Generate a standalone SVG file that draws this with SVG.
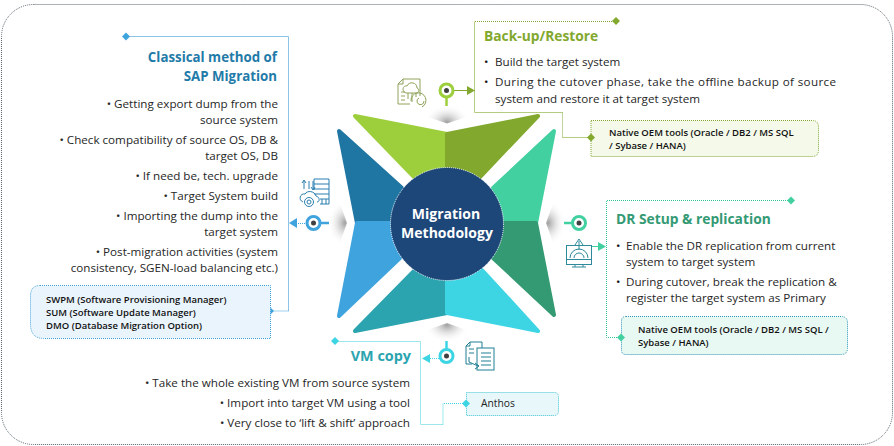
<svg xmlns="http://www.w3.org/2000/svg" width="894" height="446" viewBox="0 0 894 446">
<style>
text{font-family:"Open Sans","Noto Sans","DejaVu Sans",sans-serif}
.b{font-size:11.65px;fill:#262626}
.r{text-anchor:end}
.h{font-size:13.8px;font-weight:700}
.s{font-size:9.5px;font-weight:600;fill:#111}
.w{fill:none;stroke-linejoin:round}
.d{stroke-dasharray:1 1}
.c{font-size:14px;font-weight:700;fill:#fff;text-anchor:middle}
.dot{fill:#404040}
.i{fill:none;stroke-width:1}
</style>
<defs>
<radialGradient id="st" gradientUnits="userSpaceOnUse" cx="447" cy="122" r="23" gradientTransform="translate(447 122) scale(1 .75) translate(-447 -122)"><stop offset="0" stop-color="#a0a0a0"/><stop offset="1" stop-color="#fff" stop-opacity="0"/></radialGradient>
<radialGradient id="sb" gradientUnits="userSpaceOnUse" cx="447" cy="325" r="23" gradientTransform="translate(447 325) scale(1 .75) translate(-447 -325)"><stop offset="0" stop-color="#a0a0a0"/><stop offset="1" stop-color="#fff" stop-opacity="0"/></radialGradient>
<radialGradient id="sl" gradientUnits="userSpaceOnUse" cx="345" cy="223" r="23" gradientTransform="translate(345 223) scale(.75 1) translate(-345 -223)"><stop offset="0" stop-color="#a0a0a0"/><stop offset="1" stop-color="#fff" stop-opacity="0"/></radialGradient>
<radialGradient id="sr" gradientUnits="userSpaceOnUse" cx="548" cy="223" r="23" gradientTransform="translate(548 223) scale(.75 1) translate(-548 -223)"><stop offset="0" stop-color="#a0a0a0"/><stop offset="1" stop-color="#fff" stop-opacity="0"/></radialGradient>
</defs>
<rect width="894" height="446" fill="#fff"/>
<rect x="1.500" y="4.500" width="891" height="440" rx="32" fill="#fff" stroke="#56626a" stroke-dasharray="1 1"/>
<g id="shadows">
<path d="M422 104H472V115L447 123.500L422 115Z" fill="url(#st)"/>
<path d="M422 344H472V332L447 323L422 332Z" fill="url(#sb)"/>
<path d="M330 198H338L347 223L338 248H330Z" fill="url(#sl)"/>
<path d="M564 198H555L546 223L555 248H564Z" fill="url(#sr)"/>
</g>
<g id="star" stroke-linejoin="round" stroke-width="4">
<path d="M355 116L447 134V172L415 178Z" fill="#9dcf3c" stroke="#9dcf3c"/>
<path d="M538 116L447 134V172L480 177Z" fill="#82a82e" stroke="#82a82e"/>
<path d="M339 131L357 223H392L402 188Z" fill="#1f76a3" stroke="#1f76a3"/>
<path d="M339 316L357 223H392L400 258Z" fill="#3fa3de" stroke="#3fa3de"/>
<path d="M554 131L536 223H500L493 188Z" fill="#43d0a0" stroke="#43d0a0"/>
<path d="M554 315L536 223H500L493 258Z" fill="#339a74" stroke="#339a74"/>
<path d="M355 331L447 313V275L415 270Z" fill="#2ba4b0" stroke="#2ba4b0"/>
<path d="M538 331L447 313V275L482 270Z" fill="#3dd4e4" stroke="#3dd4e4"/>
</g>
<g id="hub">
<circle cx="447" cy="224" r="56.500" fill="#1d4679" stroke="#fff" stroke-dasharray="1 1"/>
<text class="c" x="446" y="219">Migration</text>
<text class="c" x="447" y="238">Methodology</text>
</g>
<g id="connectors">
<path d="M616 21.500H474.500" class="w d" stroke="#82a82e"/>
<path d="M474.500 21.500V112.500H562.500" class="w" stroke="#b4cd80"/>
<path d="M562.500 112.500V137.500" class="w d" stroke="#82a82e"/>
<path d="M562.500 137.500H591" class="w" stroke="#b4cd80"/>
<path d="M126 36.500H288.500V311" class="w" stroke="#8cc4e8"/>
<path d="M288.500 311H270" class="w d" stroke="#3fa3de"/>
<path d="M790 200.500H606.500V337.500H621" class="w d" stroke="#30c596"/>
<path d="M335 341.500H420.500V424.500H443" class="w" stroke="#9fe6ea"/>
<path d="M443 424.500V403.500H466" class="w d" stroke="#3dd4e4"/>
<path d="M454 90.500H468" stroke="#82a82e"/>
<path d="M296 223.500H307" class="d" stroke="#3fa3de"/>
<path d="M592 246.500H600" stroke="#43d0a0"/>
<path d="M428 358.500H440" class="d" stroke="#3dd4e4"/>
<path d="M467 86L475 90.500L467 95Z" fill="#82a82e"/>
<path d="M297 218L289 223L297 228Z" fill="#3fa3de"/>
<path d="M598 242L606 246.500L598 251Z" fill="#43d0a0"/>
<path d="M430 354L422 358.500L430 363Z" fill="#3dd4e4"/>
<path d="M126 32.500L130 36.500L126 40.500L122 36.500Z" fill="#3fa3de"/>
<path d="M616 17L620 21L616 25L612 21Z" fill="#82a82e"/>
<path d="M270 307L274 311L270 315L266 311Z" fill="#3fa3de"/>
<path d="M791 196.500L795 200.500L791 204.500L787 200.500Z" fill="#43d0a0"/>
<path d="M335 337L339 341L335 345L331 341Z" fill="#3dd4e4"/>
</g>
<g id="pin-backup"><circle cx="446.500" cy="90.500" r="6.500" fill="#fff" stroke="#9dcf3c" stroke-width="3"/><circle class="dot" cx="446.500" cy="90.500" r="2.500"/><path d="M446.500 97V106" stroke="#9dcf3c" stroke-width="2.500"/></g>
<g id="pin-classical"><circle cx="313.500" cy="223" r="6.500" fill="#fff" stroke="#3fa3de" stroke-width="3"/><circle class="dot" cx="313.500" cy="223" r="2.500"/><path d="M320 223H329" stroke="#3fa3de" stroke-width="2.500"/></g>
<g id="pin-dr"><circle cx="579" cy="223" r="6.500" fill="#fff" stroke="#43d0a0" stroke-width="3"/><circle class="dot" cx="579" cy="223" r="2.500"/><path d="M564 223H573" stroke="#43d0a0" stroke-width="2.500"/></g>
<g id="pin-vm"><circle cx="446.500" cy="356" r="6.500" fill="#fff" stroke="#3dd4e4" stroke-width="3"/><circle class="dot" cx="446.500" cy="356" r="2.500"/><path d="M446.500 341V350" stroke="#3dd4e4" stroke-width="2.500"/></g>
<g id="icon-backup" class="i" stroke="#8fa35a">
<path d="M403 79H420V96M403 79L398 84V104H410M398 84H403V79"/><path d="M406 93C401 91 403 85 407 86C409 81 417 82 417 88C420 89 419 93 416 93H406"/><path d="M408 93V99M412 93V102M416 93V97M401 92H405M401 96H405M401 100H405"/><path d="M422 107A7.500 7.500 0 1 0 411 101"/><path d="M424 101A3.500 3.500 0 1 1 419 98"/>
</g>
<g id="icon-classical" class="i" stroke="#2a7fb0">
<path d="M314 179H329V204H320M314 179V190M314 184H329M314 189H329M314 194H329M320 199H329M322 199V204M326 199V204"/><path d="M304 181V189M309 181V189M313 181V189M302 183L304 180L306 183M311 187L313 190L315 187"/><path d="M303 202C298 200 300 193 305 194C307 190 315 191 316 196C320 197 320 202 317 202"/><circle cx="309" cy="202" r="4.500"/><circle cx="309" cy="202" r="2"/>
</g>
<g id="icon-dr" class="i" stroke="#2c8a9c">
<rect x="566.500" y="245.500" width="25" height="19"/><path d="M566.500 259.500H591.500M575 264.500V267M583 264.500V267M572 267H586"/><path d="M570 258A9 9 0 0 1 588 258M574 258A5 5 0 0 1 584 258M579 250V241M575 245L579 239L583 245"/>
</g>
<g id="icon-vm" class="i" stroke="#1f7f95">
<path d="M470 342H482V348M470 342L466 346V364H472M466 346H470V342"/><rect x="477" y="348" width="17" height="22"/><path d="M481 353H491M481 357H491M481 361H491M481 365H491M469 349H474M469 353H474M469 357V362L478 366"/><path d="M475 363L479 366L475 369"/>
</g>
<g id="box-tools1">
<path d="M591 120.500H812Q818.500 120.500 818.500 127V150Q818.500 156.500 812 156.500H591Z" fill="#f4f9e9" stroke="#82a82e" stroke-dasharray="1 1"/>
<path d="M591 133.500L595 137.500L591 141.500L587 137.500Z" fill="#82a82e"/>
<text class="s" x="609" y="136">Native OEM tools (Oracle / DB2 / MS SQL</text>
<text class="s" x="609" y="149">/ Sybase / HANA)</text>
</g>
<g id="box-tools2">
<path d="M626 316.500H841Q847.500 316.500 847.500 323V348Q847.500 354.500 841 354.500H626Q621.500 354.500 621.500 350V321Q621.500 316.500 626 316.500Z" fill="#e8f8f3" stroke="#2a96b8" stroke-dasharray="1 1"/>
<path d="M621 333.500L625 337.500L621 341.500L617 337.500Z" fill="#43d0a0"/>
<text class="s" x="638" y="333">Native OEM tools (Oracle / DB2 / MS SQL /</text>
<text class="s" x="638" y="346">Sybase / HANA)</text>
</g>
<g id="box-sap">
<path d="M40 285.500H270.500V338.500H44Q31 338.500 30.500 325V295Q31 285.500 40 285.500Z" fill="#eaf4fc" stroke="#3fa3de" stroke-dasharray="1 1"/>
<text class="s" x="46" y="303">SWPM (Software Provisioning Manager)</text>
<text class="s" x="46" y="316">SUM (Software Update Manager)</text>
<text class="s" x="46" y="329">DMO (Database Migration Option)</text>
</g>
<g id="box-anthos">
<path d="M466.500 392.500H554Q558.500 392.500 558.500 397V411Q558.500 415.500 554 415.500H466.500Z" fill="#e8f8fa" stroke="#3dc4d4" stroke-dasharray="1 1"/>
<path d="M466 399.500L470 403.500L466 407.500L462 403.500Z" fill="#3dd4e4"/>
<text x="481" y="407" style="font-size:10.300px;fill:#222">Anthos</text>
</g>
<g id="text-backup">
<text class="h" x="484" y="41" fill="#82a82e">Back-up/Restore</text>
<text class="b" x="484" y="66"><tspan fill="#111">•</tspan><tspan x="495">Build the target system</tspan></text>
<text class="b" x="484" y="86"><tspan fill="#111">•</tspan><tspan x="495" textLength="341">During the cutover phase, take the offline backup of source</tspan></text>
<text class="b" x="495" y="103">system and restore it at target system</text>
</g>
<g id="text-classical">
<text class="h r" x="277" y="62" fill="#1f7ba8" style="font-size:13.300px">Classical method of</text>
<text class="h r" x="277" y="81" fill="#1f7ba8" style="font-size:13.300px">SAP Migration</text>
<text class="b r" x="278" y="108">•  Getting export dump from the</text>
<text class="b r" x="278" y="124">source system</text>
<text class="b r" x="278" y="144">•  Check compatibility of source OS, DB &amp;</text>
<text class="b r" x="278" y="160">target OS, DB</text>
<text class="b r" x="278" y="180">•  If need  be, tech. upgrade</text>
<text class="b r" x="278" y="200">•  Target System build</text>
<text class="b r" x="278" y="220">•  Importing the  dump into the</text>
<text class="b r" x="278" y="236">target system</text>
<text class="b r" x="278" y="256">•  Post-migration activities (system</text>
<text class="b r" x="278" y="272">consistency, SGEN-load balancing etc.)</text>
</g>
<g id="text-dr">
<text class="h" x="616" y="224" fill="#339a74">DR Setup &amp; replication</text>
<text class="b" x="616" y="250"><tspan fill="#111">•</tspan><tspan x="626">Enable the DR replication from current</tspan></text>
<text class="b" x="626" y="266">system to target system</text>
<text class="b" x="616" y="286"><tspan fill="#111">•</tspan><tspan x="626">During cutover, break the replication &amp;</tspan></text>
<text class="b" x="626" y="302">register the target system as Primary</text>
</g>
<g id="text-vm">
<text class="h r" x="411" y="361" fill="#2ba4b0" style="font-size:14.400px">VM copy</text>
<text class="b r" x="410" y="387">•  Take the  whole existing VM from source system</text>
<text class="b r" x="410" y="407">•  Import into target VM using a tool</text>
<text class="b r" x="410" y="427">•  Very close to ‘lift &amp; shift’ approach</text>
</g>
</svg>
